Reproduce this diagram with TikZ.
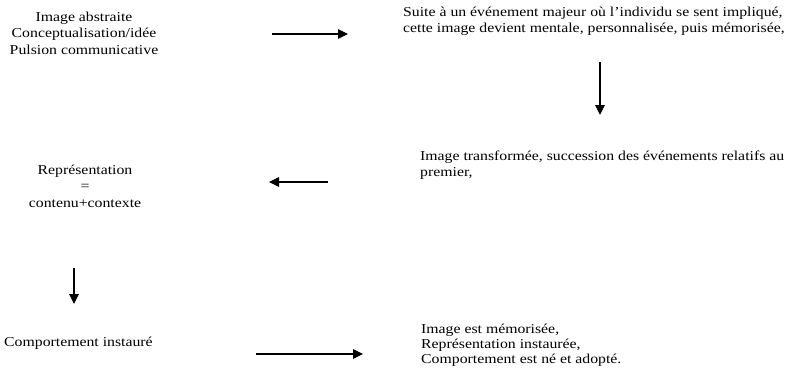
\documentclass[tikz,border=0pt]{standalone}
\usepackage{fontspec}
\setmainfont{Liberation Serif}[FakeStretch=1.16]
\usetikzlibrary{arrows.meta}

\tikzset{
  stage/.style={inner sep=0pt, font=\fontsize{13.6}{16.5}\selectfont},
  flow/.style={-{Triangle[length=10pt,width=9.5pt]}, line width=1.1pt}
}

\begin{document}
\begin{tikzpicture}[x=1pt,y=-1pt]
  \useasboundingbox (0,0) rectangle (788,375);
  % Stages
  \node[stage,align=center] (abstract) at (84,33) {Image abstraite\\Conceptualisation/idée\\Pulsion communicative};
  \node[stage,align=left,anchor=west] (event) at (403,21) {Suite à un événement majeur où l’individu se sent impliqué,\\cette image devient mentale, personnalisée, puis mémorisée,};
  \node[stage,align=left,anchor=west] (transformed) at (420,165) {Image transformée, succession des événements relatifs au\\premier,};
  \node[stage,align=center] (repr) at (85,186) {Représentation\\=\\contenu+contexte};
  \node[stage,anchor=west] (behaviour) at (4,343) {Comportement instauré};
  \node[stage,align=left,anchor=west,font=\fontsize{13.6}{15}\selectfont] (memorised) at (421,345) {Image est mémorisée,\\Représentation instaurée,\\Comportement est né et adopté.};
  % Arrows
  \coordinate (a1s) at (272,34);  \coordinate (a1e) at (348,34);
  \coordinate (a2s) at (600,62);  \coordinate (a2e) at (600,115);
  \coordinate (a3s) at (328,182); \coordinate (a3e) at (269,182);
  \coordinate (a4s) at (74,268);  \coordinate (a4e) at (74,304);
  \coordinate (a5s) at (256,354); \coordinate (a5e) at (363,354);
  \draw[flow] (a1s) -- (a1e);
  \draw[flow] (a2s) -- (a2e);
  \draw[flow] (a3s) -- (a3e);
  \draw[flow] (a4s) -- (a4e);
  \draw[flow] (a5s) -- (a5e);
\end{tikzpicture}
\end{document}
